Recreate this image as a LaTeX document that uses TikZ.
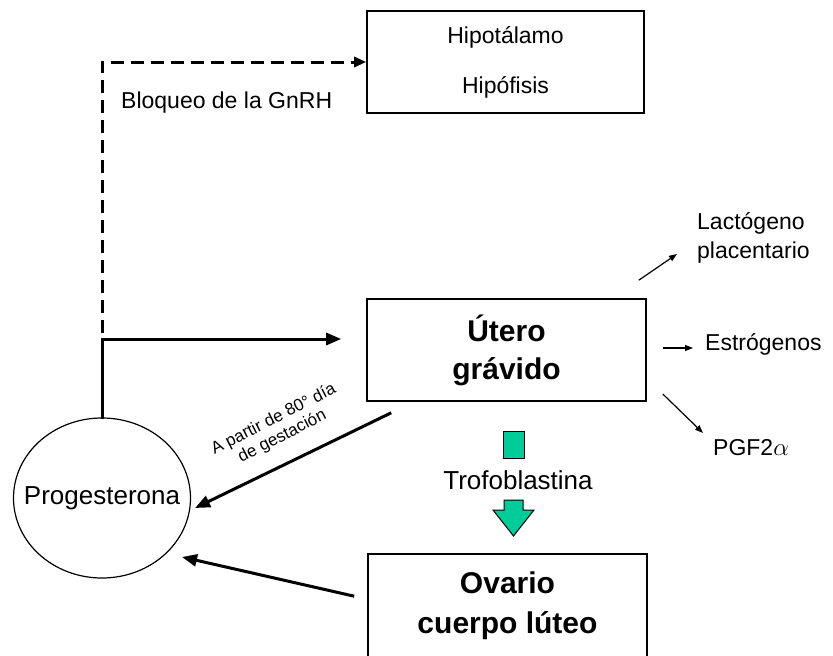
\documentclass[tikz,border=0pt]{standalone}
\usepackage{fontspec}
\setmainfont{Liberation Sans}
\usetikzlibrary{shapes.geometric,arrows.meta}
\definecolor{trofo}{RGB}{0,204,153}
\tikzset{
  caja/.style={draw, line width=1.6pt, minimum width=278pt, minimum height=102pt, inner sep=0pt, align=center},
  rotulo/.style={font=\fontsize{23}{28}\selectfont, inner sep=2pt},
  grueso/.style={line width=3pt, -{Triangle[length=15pt,width=12pt]}},
  discontinua/.style={line width=3pt, dash pattern=on 13pt off 7pt, -{Triangle[length=12pt,width=10pt]}},
  fino/.style={line width=1.2pt, -{Triangle[length=8pt,width=6pt]}},
}
\begin{document}
\begin{tikzpicture}[x=1pt,y=-1pt]
\useasboundingbox (0,0) rectangle (833,656);
% cajas
\node[caja, minimum width=277pt, font=\fontsize{23}{50}\selectfont] (hipo) at (505.5,62) {Hipotálamo\\Hipófisis};
\node[caja, minimum width=279pt, font=\bfseries\fontsize{30}{38}\selectfont] (utero) at (506.5,350) {Útero\\grávido};
\node[caja, draw=none, minimum width=277pt, minimum height=101pt, font=\bfseries\fontsize{30}{40}\selectfont] (ovario) at (507.5,605.5) {Ovario\\cuerpo lúteo};
\draw[line width=1.6pt] (ovario.south west) -- (ovario.north west) -- (ovario.north east) -- (ovario.south east);
\node[ellipse, draw, line width=1.2pt, minimum width=177pt, minimum height=160pt, inner sep=0pt] (prog) at (102,498) {};
\node[font=\fontsize{26}{30}\selectfont, inner sep=0pt] (progtxt) at (prog.center) {Progesterona};
\coordinate (codo) at (102,339);
% textos
\node[rotulo, anchor=west] (bloqueo) at (119,103) {Bloqueo de la GnRH};
\node[rotulo, align=left, anchor=west, font=\fontsize{23}{29}\selectfont] (lacto) at (695,238) {Lactógeno\\placentario};
\node[rotulo, anchor=west] (estro) at (703,344) {Estrógenos};
\node[rotulo, anchor=west] (pgf) at (711,448) {PGF2$\alpha$};
\node[rotate=27, align=center, inner sep=0pt, font=\fontsize{17}{19}\selectfont] (partir) at (278,428) {A partir de 80° día\\de gestación};
% trofoblastina
\node[draw, fill=trofo, line width=1pt, minimum width=21pt, minimum height=27pt, inner sep=0pt] (barra) at (513.5,444.5) {};
\node[rotulo, font=\fontsize{26}{30}\selectfont] (trofob) at (518,480) {Trofoblastina};
\draw[fill=trofo, line width=1pt] (504,500) -- (523,500) -- (523,510) -- (534,510) -- (513.5,536) -- (493,510) -- (504,510) -- cycle;
% flechas
\draw[grueso, line cap=rect] (prog.north) |- ([yshift=11pt]utero.west) [shorten >=25pt];
\draw[discontinua] ([yshift=6pt]codo) |- (hipo.west);
\draw[grueso] ([xshift=25pt,yshift=-11pt]utero.south west) -- ([xshift=4pt,yshift=-10pt]prog.east);
\draw[grueso] ([xshift=-14pt,yshift=-42pt]ovario.north west) -- ([xshift=80pt,yshift=-59pt]prog.center);
\draw[fino] ([xshift=-8pt,yshift=18pt]utero.north east) -- ([xshift=-18pt,yshift=-16pt]lacto.west);
\draw[fino, shorten >=10pt] ([xshift=16pt,yshift=2pt]utero.east) -- ([yshift=-4pt]estro.west);
\draw[fino] ([xshift=16pt,yshift=-44pt]utero.east) -- ([xshift=-8pt,yshift=15pt]pgf.west);
\end{tikzpicture}
\end{document}
